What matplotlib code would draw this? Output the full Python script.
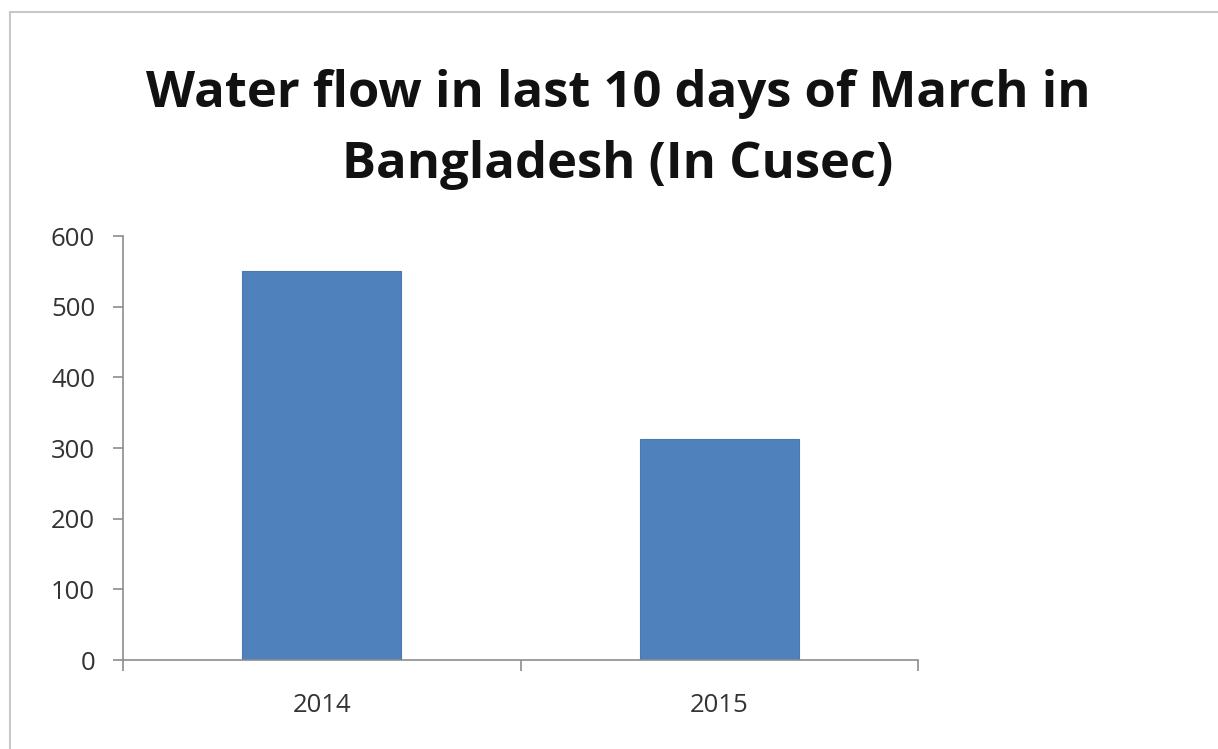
import matplotlib
matplotlib.use("Agg")
import matplotlib.pyplot as plt
from matplotlib.patches import Rectangle
from matplotlib.ticker import FixedLocator

categories = ["2014", "2015"]
values = [550, 313]
yticks = [0, 100, 200, 300, 400, 500, 600]
title_lines = ["Water flow in last 10 days of March in", "Bangladesh (In Cusec)"]

W, H = 1218, 749
fig = plt.figure(figsize=(W / 100, H / 100), dpi=100)
fig.patch.set_facecolor("white")

# outer frame
fig.add_artist(Rectangle((9.5 / W, -0.1), 1.2, 1 - 12.5 / H + 0.1, transform=fig.transFigure,
                         fill=False, edgecolor="#c8c8c8", linewidth=1.5))

ax = fig.add_axes([123 / W, 1 - 660 / H, (918 - 123) / W, (660 - 236) / H])
x = list(range(len(categories)))
ax.bar(x, values, width=0.4, color="#4f81bd", edgecolor="#4a78b0", linewidth=0.8)

ax.set_xlim(-0.5, len(categories) - 0.5)
ax.set_ylim(0, 600)
ax.set_yticks(yticks)
ax.set_xticks(x)
ax.set_xticklabels(categories)
ax.xaxis.set_minor_locator(FixedLocator([-0.5, 0.5, 1.5]))

for s in ["top", "right"]:
    ax.spines[s].set_visible(False)
for s in ["left", "bottom"]:
    ax.spines[s].set_color("#8c8c8c")
    ax.spines[s].set_linewidth(1.2)

ax.tick_params(axis="y", direction="out", length=7, width=1.2, color="#8c8c8c",
               labelsize=18.5, labelcolor="#333333", pad=13)
ax.tick_params(axis="x", which="major", length=0, labelsize=18.5, labelcolor="#333333", pad=24)
ax.tick_params(axis="x", which="minor", direction="out", length=8, width=1.2, color="#8c8c8c")
for lab in ax.get_xticklabels() + ax.get_yticklabels():
    lab.set_fontfamily("Open Sans")

fig.text(618 / W, 1 - 107 / H, title_lines[0], ha="center", va="baseline", fontsize=36.5,
         fontweight="bold", family="Open Sans", color="#111111")
fig.text(618 / W, 1 - 178 / H, title_lines[1], ha="center", va="baseline", fontsize=36.5,
         fontweight="bold", family="Open Sans", color="#111111")

fig.savefig("out.png", dpi=100)
